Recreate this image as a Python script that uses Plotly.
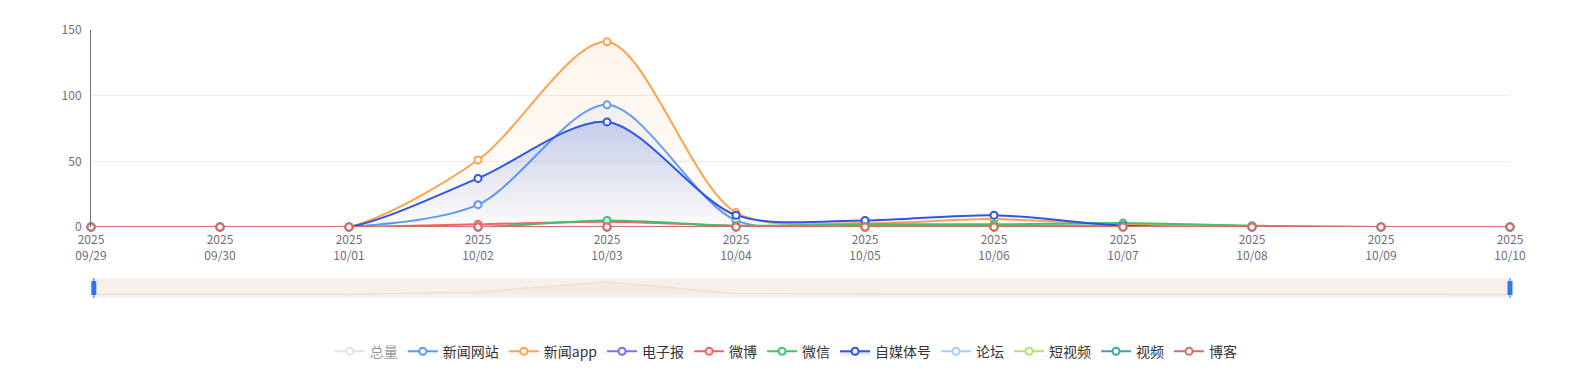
import plotly.graph_objects as go

dates = ["09/29", "09/30", "10/01", "10/02", "10/03", "10/04", "10/05", "10/06", "10/07", "10/08", "10/09", "10/10"]
year = "2025"

news_site = [0, 0, 0, 17, 93, 5, 1, 1, 1, 0, 0, 0]
news_app = [0, 0, 0, 51, 141, 11, 3, 6, 2, 1, 0, 0]
epaper = [0] * 12
weibo = [0, 0, 0, 2, 4, 1, 0, 0, 0, 0, 0, 0]
wechat = [0, 0, 0, 0, 5, 1, 2, 2, 3, 1, 0, 0]
self_media = [0, 0, 0, 37, 80, 9, 5, 9, 1, 0, 0, 0]
forum = [0] * 12
short_video = [0] * 12
video = [0] * 12
blog = [0] * 12
total = [a + b + c + d + e + f + g + h + i + j for a, b, c, d, e, f, g, h, i, j in
         zip(news_site, news_app, epaper, weibo, wechat, self_media, forum, short_video, video, blog)]

series = [
    ("总量", total, "#c8c8c8", None),
    ("新闻网站", news_site, "#5a9cf8", ("rgba(90,156,248,0.0)", "rgba(90,156,248,0.10)")),
    ("新闻app", news_app, "#ffa24f", ("rgba(255,162,79,0.02)", "rgba(255,162,79,0.11)")),
    ("电子报", epaper, "#7b6cf6", None),
    ("微博", weibo, "#ff5f5f", None),
    ("微信", wechat, "#3dc46c", None),
    ("自媒体号", self_media, "#2f55e4", ("rgba(40,80,200,0.0)", "rgba(40,80,200,0.22)")),
    ("论坛", forum, "#a4d0ff", None),
    ("短视频", short_video, "#b2e36b", None),
    ("视频", video, "#3aa4ac", None),
    ("博客", blog, "#cf6e6b", None),
]

ticktext = [f"{year}<br>{d}" for d in dates]

fig = go.Figure()
for name, vals, color, grad in series:
    kw = {}
    if grad is not None:
        kw = dict(fill="tozeroy", fillgradient=dict(type="vertical", colorscale=[[0, grad[0]], [1, grad[1]]]))
    fig.add_trace(go.Scatter(
        x=dates, y=vals, name=name, mode="lines+markers", cliponaxis=False,
        line=dict(color=color, width=2, shape="spline", smoothing=0.85),
        marker=dict(symbol="circle", size=7, color="white", line=dict(color=color, width=2)),
        visible="legendonly" if name == "总量" else True,
        xaxis="x", yaxis="y", **kw,
    ))

# data zoom shadow (first visible series)
fig.add_trace(go.Scatter(
    x=dates, y=news_site, mode="lines", showlegend=False, hoverinfo="skip",
    line=dict(color="#e5dfd8", width=1), fill="tozeroy", fillcolor="rgba(210,200,190,0.12)",
    xaxis="x2", yaxis="y2",
))

span = max(news_site) - min(news_site)

fig.update_layout(
    width=1573, height=382,
    margin=dict(l=91, r=63, t=30, b=84, autoexpand=False),
    paper_bgcolor="white", plot_bgcolor="white",
    font=dict(family="Noto Sans CJK SC, Noto Sans, sans-serif", size=12, color="#6E7079"),
    showlegend=True,
    legend=dict(orientation="h", x=0.49, xanchor="center", y=-0.2, yanchor="middle",
                font=dict(size=14, color="#333333"), itemwidth=30, tracegroupgap=0),
    xaxis=dict(type="category", range=[0, len(dates) - 1], tickvals=dates, ticktext=ticktext,
               showgrid=False, zeroline=False, showline=False, ticks="", automargin=False,
               ticklabelstandoff=4,
               tickfont=dict(size=12, color="#6E7079"), anchor="y"),
    yaxis=dict(domain=[71 / 268, 1], range=[0, 150], tickvals=[0, 50, 100, 150],
               showgrid=True, gridcolor="#E9ECF2", zeroline=False, automargin=False,
               showline=True, linecolor="#6E7079", linewidth=1,
               ticks="", ticklabelstandoff=6, tickfont=dict(size=12, color="#6E7079")),
    xaxis2=dict(type="category", range=[0, len(dates) - 1], visible=False, anchor="y2"),
    yaxis2=dict(domain=[0, 20 / 268], range=[min(news_site) - 0.3 * span, max(news_site) + 0.3 * span],
                visible=False, anchor="x2"),
    shapes=[
        dict(type="rect", xref="x2 domain", yref="y2 domain", x0=0, x1=1, y0=0, y1=1,
             fillcolor="#f5f0eb", line=dict(width=0), layer="below"),
        dict(type="line", xref="x2 domain", yref="y2 domain", x0=0.002, x1=0.002, y0=0, y1=1,
             line=dict(color="#2a7be4", width=1)),
        dict(type="rect", xref="x2 domain", yref="y2 domain", xsizemode="pixel", xanchor=0.002,
             x0=-2.5, x1=2.5, y0=0.15, y1=0.85, fillcolor="#2a7be4", line=dict(width=0)),
        dict(type="line", xref="x2 domain", yref="y2 domain", x0=1, x1=1, y0=0, y1=1,
             line=dict(color="#2a7be4", width=1)),
        dict(type="rect", xref="x2 domain", yref="y2 domain", xsizemode="pixel", xanchor=1,
             x0=-2.5, x1=2.5, y0=0.15, y1=0.85, fillcolor="#2a7be4", line=dict(width=0)),
    ],
)

fig.write_html("out.html", config={"displayModeBar": False},
               post_script="document.body.style.margin='0';document.body.style.padding='0';")
